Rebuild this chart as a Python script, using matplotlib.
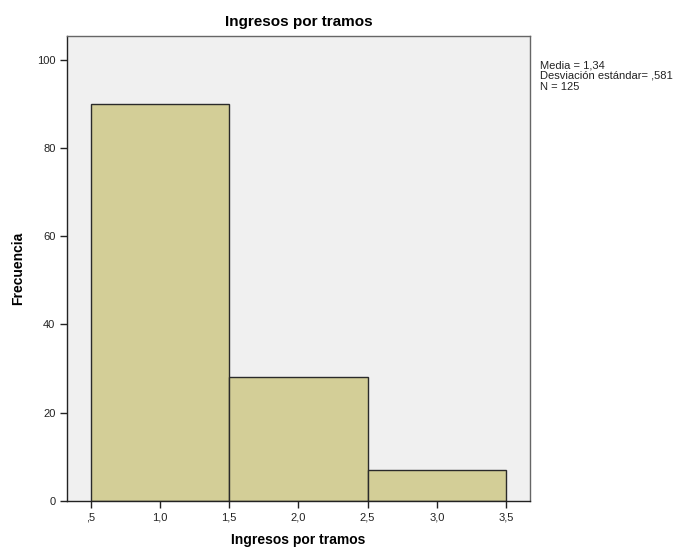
import matplotlib.pyplot as plt

# Datos del histograma
bordes = [0.5, 1.5, 2.5, 3.5]
frecuencias = [90, 28, 7]
xticks = [0.5, 1.0, 1.5, 2.0, 2.5, 3.0, 3.5]
xticklabels = [",5", "1,0", "1,5", "2,0", "2,5", "3,0", "3,5"]
yticks = [0, 20, 40, 60, 80, 100]
estadisticos = ["Media = 1,34", "Desviación estándar= ,581", "N = 125"]

plt.rcParams['font.family'] = ['Liberation Sans', 'DejaVu Sans']

fig = plt.figure(figsize=(6.83, 5.51), dpi=100)
ax = fig.add_axes([0.0985, 0.0913, 0.6775, 0.8434])
ax.set_facecolor("#f0f0f0")

anchos = [bordes[i + 1] - bordes[i] for i in range(len(frecuencias))]
ax.bar(bordes[:-1], frecuencias, width=anchos, align="edge",
       color="#d3ce97", edgecolor="#2a2a2a", linewidth=1.0)

ax.set_xlim(0.331, 3.673)
ax.set_ylim(0, 105.4)
ax.set_xticks(xticks)
ax.set_xticklabels(xticklabels)
ax.set_yticks(yticks)
ax.tick_params(direction="out", length=5, width=1, labelsize=8, colors="#222222")

for lado in ["left", "bottom"]:
    ax.spines[lado].set_color("#222222")
for lado in ["top", "right"]:
    ax.spines[lado].set_color("#666666")
for s in ax.spines.values():
    s.set_linewidth(1)

ax.set_title("Ingresos por tramos", fontsize=11, fontweight="bold", pad=7)
ax.set_xlabel("Ingresos por tramos", fontsize=10, fontweight="bold")
ax.set_ylabel("Frecuencia", fontsize=10, fontweight="bold")
ax.xaxis.set_label_coords(0.5, -0.085)
ax.yaxis.set_label_coords(-0.107, 0.5)
ax.xaxis.label.set_va("center")
ax.yaxis.label.set_va("center")

fig.text(540 / 683, 1 - 60 / 551, "\n".join(estadisticos), fontsize=8,
         va="top", ha="left", linespacing=1.1, color="#222222")

plt.savefig("out.png", dpi=100)
